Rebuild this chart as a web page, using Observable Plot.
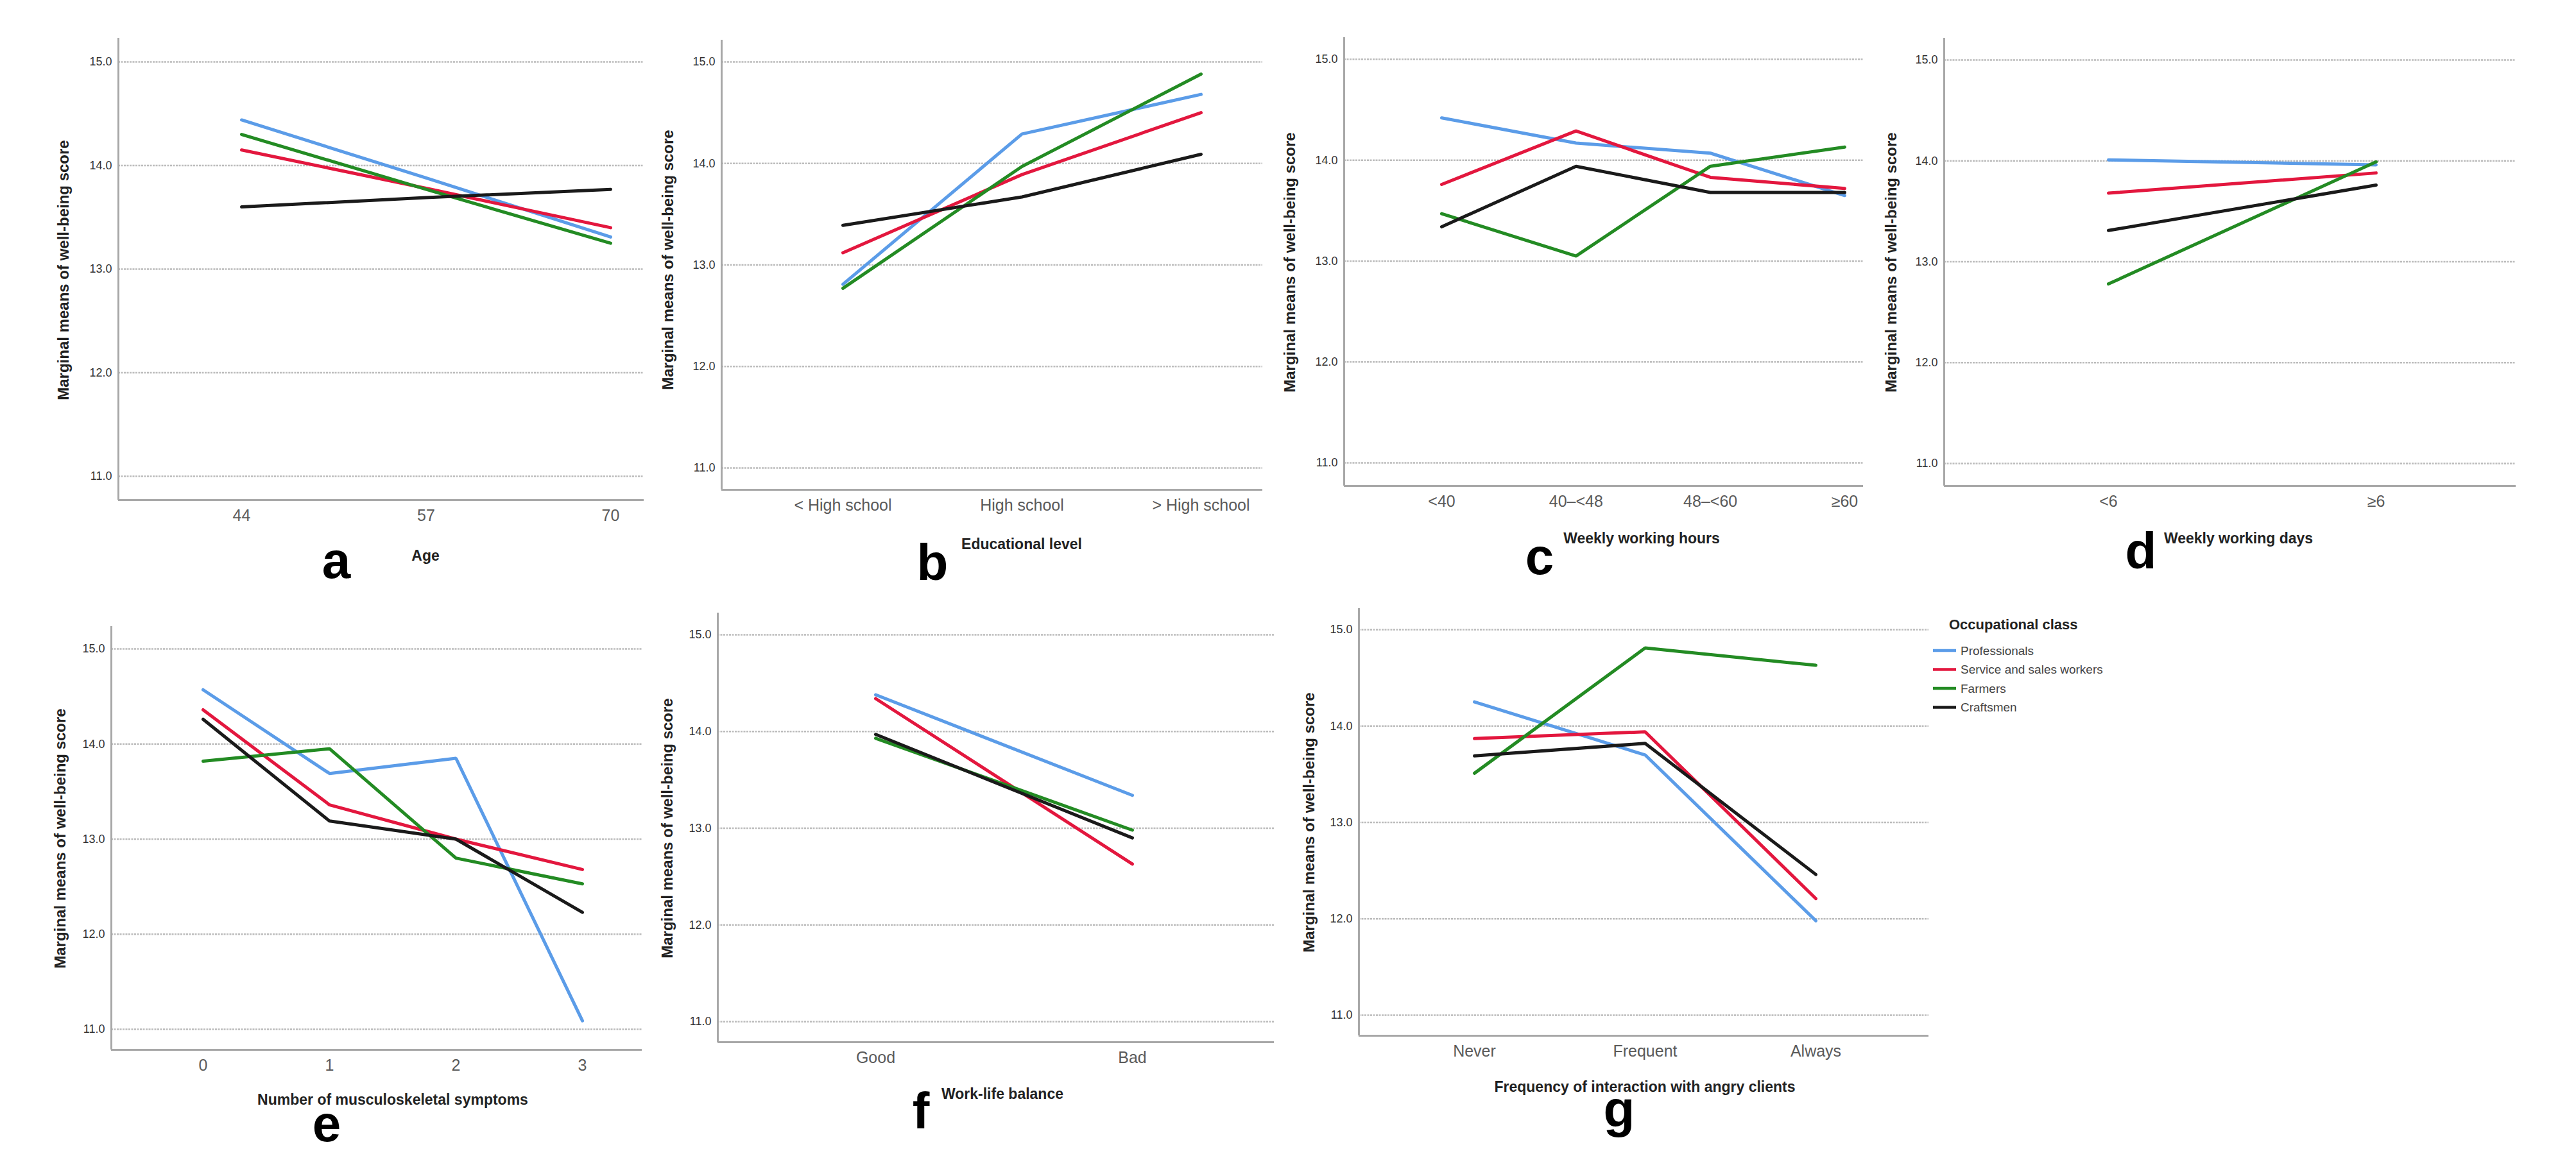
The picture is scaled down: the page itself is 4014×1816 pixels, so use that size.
<!DOCTYPE html>
<html><head><meta charset="utf-8">
<script src="https://cdn.jsdelivr.net/npm/d3@7"></script>
<script src="https://cdn.jsdelivr.net/npm/@observablehq/plot@0.6"></script>
<style>
html,body{margin:0;padding:0;background:#fff;}
#root{position:relative;width:4014px;height:1816px;overflow:hidden;font-family:"Liberation Sans",Arial,sans-serif;background:#fff;}
#root > svg{position:absolute;}
</style></head><body><div id="root"></div>
<script>
// ---- data ----
const series = ["Professionals", "Service and sales workers", "Farmers", "Craftsmen"];
const seriesColors = ["#5b9ce8", "#e3173e", "#238b23", "#1a1a1a"];
const yTicks = [11, 12, 13, 14, 15];
const yTitle = "Marginal means of well-being score";
const legendTitle = "Occupational class";

const ageTicks = [44, 57, 70];
const ageValues = [[14.44, 13.88, 13.31], [14.15, 13.78, 13.40], [14.30, 13.77, 13.25], [13.60, 13.69, 13.77]];
const eduLevels = ["< High school", "High school", "> High school"];
const eduValues = [[12.81, 14.29, 14.68], [13.12, 13.89, 14.50], [12.77, 13.97, 14.88], [13.39, 13.67, 14.09]];
const hoursLevels = ["<40", "40–<48", "48–<60", "≥60"];
const hoursValues = [[14.42, 14.17, 14.07, 13.65], [13.76, 14.29, 13.83, 13.72], [13.47, 13.05, 13.94, 14.13], [13.34, 13.94, 13.68, 13.68]];
const daysLevels = ["<6", "≥6"];
const daysValues = [[14.01, 13.96], [13.68, 13.88], [12.78, 13.99], [13.31, 13.76]];
const mskLevels = ["0", "1", "2", "3"];
const mskValues = [[14.57, 13.69, 13.85, 11.09], [14.36, 13.36, 13.00, 12.68], [13.82, 13.95, 12.80, 12.53], [14.26, 13.19, 13.00, 12.23]];
const wlbLevels = ["Good", "Bad"];
const wlbValues = [[14.38, 13.34], [14.34, 12.63], [13.93, 12.98], [13.97, 12.90]];
const angryLevels = ["Never", "Frequent", "Always"];
const angryValues = [[14.25, 13.70, 11.98], [13.87, 13.94, 12.21], [13.51, 14.81, 14.63], [13.69, 13.82, 12.46]];

// ---- layout (pixel geometry of each panel) ----
const panels = [
  {letter: "a", title: "Age", ticks: ageTicks, labels: null, values: ageValues, row: 0,
   L: 184, R: 1003, T: 59, B: 779, y15: 96, y11: 742, p0: 376, p1: 951,
   yTitleX: 99, yTitleY: 421, xTitleX: 663, xTitleY: 874, letterX: 524, letterY: 901},
  {letter: "b", title: "Educational level", labels: eduLevels, values: eduValues, row: 0,
   L: 1124, R: 1967, T: 62, B: 763, y15: 96, y11: 729, p0: 1313, p1: 1871,
   yTitleX: 1041, yTitleY: 405, xTitleX: 1592, xTitleY: 856, letterX: 1453, letterY: 904},
  {letter: "c", title: "Weekly working hours", labels: hoursLevels, values: hoursValues, row: 0,
   L: 2094, R: 2903, T: 58, B: 757, y15: 92, y11: 721, p0: 2246, p1: 2874,
   yTitleX: 2010, yTitleY: 409, xTitleX: 2558, xTitleY: 847, letterX: 2399, letterY: 895},
  {letter: "d", title: "Weekly working days", labels: daysLevels, values: daysValues, row: 0,
   L: 3029, R: 3920, T: 59, B: 757, y15: 93, y11: 722, p0: 3285, p1: 3702,
   yTitleX: 2947, yTitleY: 409, xTitleX: 3488, xTitleY: 847, letterX: 3336, letterY: 886},
  {letter: "e", title: "Number of musculoskeletal symptoms", labels: mskLevels, values: mskValues, row: 900,
   L: 173, R: 1000, T: 976, B: 1636, y15: 1011, y11: 1604, p0: 316, p1: 907,
   yTitleX: 94, yTitleY: 1307, xTitleX: 612, xTitleY: 1722, letterX: 509, letterY: 1779},
  {letter: "f", title: "Work-life balance", labels: wlbLevels, values: wlbValues, row: 900,
   L: 1118, R: 1985, T: 955, B: 1624, y15: 989, y11: 1592, p0: 1364, p1: 1764,
   yTitleX: 1040, yTitleY: 1291, xTitleX: 1562, xTitleY: 1713, letterX: 1435, letterY: 1759},
  {letter: "g", title: "Frequency of interaction with angry clients", labels: angryLevels, values: angryValues, row: 900,
   L: 2117, R: 3005, T: 948, B: 1614, y15: 981, y11: 1582, p0: 2297, p1: 2829,
   yTitleX: 2040, yTitleY: 1282, xTitleX: 2563, xTitleY: 1702, letterX: 2523, letterY: 1756}
];

const root = document.getElementById("root");
const FONT = '"Liberation Sans", Arial, sans-serif';
const padL = 70, padR = 5, padB = 50;

for (const p of panels) {
  const xs = p.ticks ? p.ticks : p.labels.map((d, i) => i);
  const v0 = xs[0], v1 = xs[xs.length - 1];
  const k = (p.p1 - p.p0) / (v1 - v0);
  const xmin = v0 - (p.p0 - p.L) / k;
  const xmax = v1 + (p.R - p.p1) / k;
  const unit = (p.y11 - p.y15) / 4;
  const ymax = 15 + (p.y15 - p.T) / unit;
  const ymin = 11 - (p.B - p.y11) / unit;
  const rows = series.flatMap((s, si) => p.values[si].map((v, i) => ({x: xs[i], y: v, s})));
  const width = p.R - p.L + padL + padR;
  const height = p.B - p.row + padB;
  const chart = Plot.plot({
    width, height,
    marginLeft: padL, marginRight: padR, marginTop: p.T - p.row, marginBottom: padB,
    style: {fontFamily: FONT, background: "transparent", overflow: "visible"},
    x: {type: "linear", domain: [xmin, xmax]},
    y: {type: "linear", domain: [ymin, ymax]},
    color: {domain: series, range: seriesColors},
    marks: [
      Plot.gridY(yTicks, {stroke: "#bcbcbc", strokeOpacity: 1, strokeWidth: 2.5, strokeDasharray: "3,1.5"}),
      Plot.ruleX([xmin], {stroke: "#a8a8a8", strokeWidth: 3}),
      Plot.ruleY([ymin], {stroke: "#a8a8a8", strokeWidth: 3}),
      Plot.axisY(yTicks, {tickSize: 0, tickPadding: 10, fontSize: 18, color: "#333", label: null, tickFormat: d3.format(".1f")}),
      Plot.axisX(xs, {tickSize: 0, tickPadding: 15, fontSize: 25, color: "#5a5a5a", label: null,
        tickFormat: p.labels ? (i => p.labels[i]) : (d => String(d))}),
      Plot.lineY(rows, {x: "x", y: "y", z: "s", stroke: "s", strokeWidth: 5, strokeLinejoin: "miter"})
    ]
  });
  chart.style.left = (p.L - padL) + "px";
  chart.style.top = p.row + "px";
  root.appendChild(chart);
}

// ---- overlay text: axis titles, panel letters, legend ----
const ov = d3.select(root).append("svg")
  .attr("width", 4014).attr("height", 1816)
  .style("left", "0px").style("top", "0px")
  .style("font-family", FONT);

for (const p of panels) {
  ov.append("text")
    .attr("transform", `translate(${p.yTitleX},${p.yTitleY}) rotate(-90)`)
    .attr("text-anchor", "middle").attr("dy", "0.35em")
    .attr("font-size", 24).attr("font-weight", "bold").attr("fill", "#222")
    .text(yTitle);
  ov.append("text")
    .attr("x", p.xTitleX).attr("y", p.xTitleY)
    .attr("text-anchor", "middle")
    .attr("font-size", 23).attr("font-weight", "bold").attr("fill", "#222")
    .text(p.title);
  ov.append("text")
    .attr("x", p.letterX).attr("y", p.letterY)
    .attr("text-anchor", "middle")
    .attr("font-size", 80).attr("font-weight", "bold").attr("fill", "#000")
    .text(p.letter);
}

const lg = ov.append("g");
lg.append("text").attr("x", 3037).attr("y", 981)
  .attr("font-size", 22).attr("font-weight", "bold").attr("fill", "#222")
  .text(legendTitle);
series.forEach((s, i) => {
  const y = 1014 + i * 29.5;
  lg.append("line").attr("x1", 3012).attr("x2", 3048).attr("y1", y).attr("y2", y)
    .attr("stroke", seriesColors[i]).attr("stroke-width", 4.5);
  lg.append("text").attr("x", 3055).attr("y", y).attr("dy", "0.35em")
    .attr("font-size", 19).attr("fill", "#444").text(s);
});
</script>
</body></html>
